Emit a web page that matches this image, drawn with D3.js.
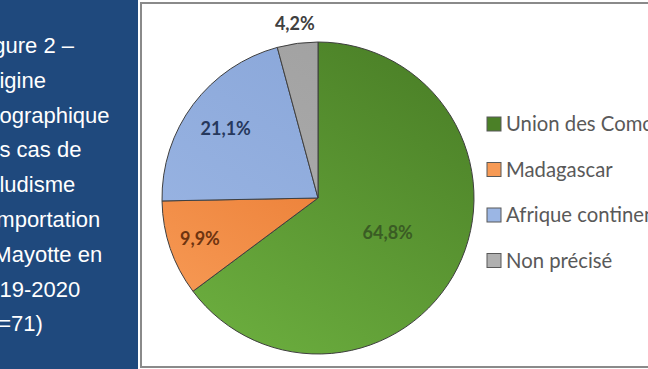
<!DOCTYPE html>
<html>
<head>
<meta charset="utf-8">
<script src="https://cdn.jsdelivr.net/npm/d3@7"></script>
<style>
  html, body { margin: 0; padding: 0; background: #fff; overflow: hidden; }
  svg { display: block; }
</style>
</head>
<body>
<div class="canvas"></div>
<script>
// Data
const categories = ['Union des Comores', 'Madagascar', 'Afrique continentale', 'Non précisé'];
const shares = [64.8, 9.9, 21.1, 4.2];
const shareLabels = ['64,8%', '9,9%', '21,1%', '4,2%'];
const captionLines = ['Figure 2 –', 'Origine', 'géographique', 'des cas de', 'paludisme',
    "d'importation", 'à Mayotte en', '2019-2020', '(N=71)'];

// Styles
const sliceColors = [
    ['#4b8027', '#6bad3e'],
    ['#e36c22', '#f79a55'],
    ['#88a5d8', '#9bb6e4'],
    ['#a0a0a0', '#b0b0b0']
];
const labelColors = ['#3a5c24', '#6e3410', '#26385c', '#404040'];
const labelRadius = [0.5, 0.8, 0.74, 1.13];

const W = 648, H = 369;
const cx = 318, cy = 198, R = 156;

const svg = d3.select('.canvas')
    .append('svg')
    .attr('width', W)
    .attr('height', H);

// Gradients
const defs = svg.append('defs');
sliceColors.forEach((c, i) => {
    const g = defs.append('linearGradient')
        .attr('id', 'grad' + i)
        .attr('gradientUnits', 'userSpaceOnUse')
        .attr('x1', cx + R * 0.7).attr('y1', cy - R * 0.9)
        .attr('x2', cx - R * 0.5).attr('y2', cy + R);
    g.append('stop').attr('offset', '0%').attr('stop-color', c[0]);
    g.append('stop').attr('offset', '100%').attr('stop-color', c[1]);
});

// Left caption panel (the page crop cuts the start of each line)
svg.append('rect')
    .attr('x', 0).attr('y', 0)
    .attr('width', 138).attr('height', H)
    .attr('fill', '#1f497d');

const caption = svg.append('text')
    .attr('font-family', '"Liberation Sans", Arial, sans-serif')
    .attr('font-size', 22)
    .attr('fill', '#ffffff');
captionLines.forEach((line, i) => {
    caption.append('tspan')
        .attr('x', -25)
        .attr('y', 53 + i * 34.8)
        .text(line);
});
svg.append('rect')
    .attr('x', 138).attr('y', 0)
    .attr('width', 3).attr('height', H)
    .attr('fill', '#ffffff');

// Chart frame
svg.append('rect')
    .attr('x', 141).attr('y', 3)
    .attr('width', 520).attr('height', 364)
    .attr('fill', '#ffffff')
    .attr('stroke', '#8a8a8a')
    .attr('stroke-width', 2);

// Pie
const pie = d3.pie().sort(null).value(d => d);
const arc = d3.arc().innerRadius(0).outerRadius(R);
const arcs = pie(shares);

const graph = svg.append('g')
    .attr('transform', `translate(${cx}, ${cy})`);

graph.selectAll('.slice')
    .data(arcs)
    .enter()
    .append('path')
    .attr('class', 'slice')
    .attr('d', arc)
    .attr('fill', (d, i) => `url(#grad${i})`)
    .attr('stroke', '#3f3f3f')
    .attr('stroke-width', 1);

graph.selectAll('.label')
    .data(arcs)
    .enter()
    .append('text')
    .attr('class', 'label')
    .attr('transform', (d, i) => {
        const a = (d.startAngle + d.endAngle) / 2;
        const r = R * labelRadius[i];
        return `translate(${Math.sin(a) * r}, ${-Math.cos(a) * r})`;
    })
    .attr('text-anchor', 'middle')
    .attr('dy', '0.35em')
    .attr('font-family', 'Lato, "Open Sans", sans-serif')
    .attr('font-weight', 'bold')
    .attr('font-size', 18)
    .attr('fill', (d, i) => labelColors[i])
    .text((d, i) => shareLabels[i]);

// Legend (cut by the right edge as in the source)
const legend = svg.append('g')
    .attr('transform', 'translate(487, 124)');

const items = legend.selectAll('.item')
    .data(categories)
    .enter()
    .append('g')
    .attr('class', 'item')
    .attr('transform', (d, i) => `translate(0, ${i * 45.5})`);

items.append('rect')
    .attr('x', 0).attr('y', -7)
    .attr('width', 14).attr('height', 14)
    .attr('fill', (d, i) => sliceColors[i][i === 0 ? 0 : 1])
    .attr('stroke', '#595959')
    .attr('stroke-width', 1);

items.append('text')
    .attr('x', 19)
    .attr('dy', '0.36em')
    .attr('font-family', 'Lato, "Open Sans", sans-serif')
    .attr('font-size', 20.3)
    .attr('fill', '#595959')
    .text(d => d);
</script>
</body>
</html>
